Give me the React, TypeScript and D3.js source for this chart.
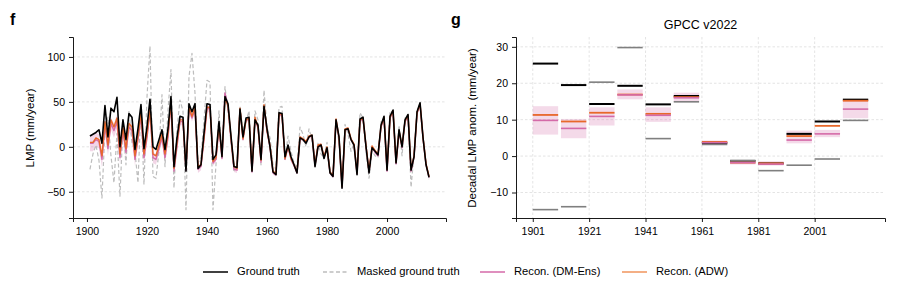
import React, { useEffect, useRef } from 'react';
import * as d3 from 'd3';

// annual series, 1901-2014 (mm/year)
const firstYear = 1901;
const groundTruth = [
  12, 14, 16, 19, 4, 46, 11, 43, 39, 55,
  0, 30, 8, 37, 33, -3, 20, 47, -2, 22,
  53, 0, -3, 8, 19, -3, 20, 56, -22, 10,
  34, 33, -27, 48, 39, 48, -24, -20, 15, 48,
  47, -14, -9, 28, -11, 56, 48, 12, -22, -23,
  42, 11, 32, 33, -27, 30, 24, -14, 45, 20,
  0, -28, -31, 38, 37, -11, 2, -11, -20, -29,
  10, 8, 4, 11, 13, -22, 0, 2, -13, -1,
  -29, -33, 30, 11, -46, 19, 20, 8, 2, -31,
  31, 33, 0, -29, -1, -5, -9, 24, 34, -26,
  34, 41, -18, 19, 0, 30, 36, -26, -11, 39,
  49, 10, -20, -34,
];
const maskedTruth = [
  -25, -8, 2, -15, -57, 20, 33, -10, -40, 15,
  -55, 25, -20, 40, 5, -5, -40, 45, -42, 55,
  112, -33, -35, -5, 58, -22, 40, 86, -46, 20,
  52, 40, -70, 78, 104, 60, -18, -12, 30, 74,
  72, -70, -20, 40, -8, 67, 40, 5, -28, -18,
  45, 18, 28, 40, -22, 40, 30, -20, 63, 22,
  10, -20, -25, 44, 45, -15, 12, -5, -18, -22,
  22, 14, 0, 20, 8, -20, 4, -8, -12, 5,
  -26, -30, 26, 5, -40, 25, 14, -5, 4, -26,
  38, 32, -5, -35, -4, -10, -12, 28, 30, -22,
  40, 38, -14, 24, -10, 32, 34, -45, -8, 40,
  46, 12, -20, -36,
];
const reconAdw = [
  5, 5, 10, 8, -10, 28, 2, 30, 22, 32,
  -8, 22, -2, 26, 22, -10, 12, 38, -8, 14,
  42, -8, -10, 2, 14, -8, 14, 50, -24, 4,
  30, 30, -24, 44, 34, 44, -22, -20, 10, 44,
  44, -16, -12, 24, -10, 54, 46, 10, -22, -24,
  43, 9, 30, 32, -26, 33, 22, -15, 47, 18,
  1, -27, -30, 37, 36, -13, 1, -13, -20, -28,
  11, 9, 6, 12, 13, -20, 2, 3, -11, 0,
  -28, -32, 31, 10, -44, 20, 21, 9, 3, -29,
  30, 32, 1, -27, 1, -4, -8, 23, 33, -25,
  33, 40, -17, 18, 1, 29, 35, -25, -10, 38,
  48, 10, -19, -33,
];
const reconDm = [
  4, 4, 8, 6, -14, 24, -2, 26, 18, 28,
  -12, 18, -6, 22, 18, -14, 8, 34, -12, 10,
  40, -12, -14, -2, 10, -12, 10, 48, -27, 0,
  28, 28, -26, 42, 32, 42, -25, -22, 8, 42,
  43, -18, -14, 22, -13, 60, 45, 8, -25, -26,
  41, 8, 29, 31, -28, 31, 21, -17, 45, 17,
  0, -29, -31, 36, 35, -14, 0, -14, -21, -29,
  10, 8, 5, 11, 12, -21, 1, 2, -12, -1,
  -29, -33, 30, 9, -45, 19, 20, 8, 2, -30,
  29, 31, 0, -28, 0, -6, -10, 22, 32, -27,
  32, 39, -19, 17, -1, 28, 34, -27, -11, 37,
  47, 9, -20, -34,
];
const reconDmSpread = [
  9, 9, 8, 8, 9, 8, 8, 7, 8, 8,
  7, 7, 7, 6, 7, 7, 6, 6, 7, 6,
  6, 6, 6, 5, 5, 5, 5, 5, 5, 5,
  4, 4, 4, 4, 4, 4, 4, 4, 4, 4,
  4, 3, 3, 3, 3, 4, 3, 3, 3, 3,
  3, 2, 2, 2, 3, 2, 2, 2, 3, 2,
  2, 2, 2, 2, 2, 2, 2, 2, 2, 2,
  2, 2, 2, 2, 2, 2, 2, 2, 2, 2,
  2, 2, 2, 2, 3, 2, 2, 2, 2, 2,
  2, 2, 2, 2, 2, 2, 2, 2, 2, 2,
  2, 2, 2, 2, 2, 2, 2, 2, 2, 2,
  2, 2, 2, 3,
];

// decadal anomalies (mm/year)
const decades = [1901, 1911, 1921, 1931, 1941, 1951, 1961, 1971, 1981, 1991, 2001, 2011];
const decTruth = [25.4, 19.5, 14.3, 19.3, 14.2, 16.5, 3.6, -1.3, -2.0, 6.1, 9.5, 15.5];
const decMasked = [-14.7, -13.9, 20.3, 29.8, 4.8, 14.9, 3.2, -1.3, -4.0, -2.5, -0.8, 9.8];
const decAdw = [11.3, 9.5, 11.9, 16.9, 11.6, 16.2, 3.9, -1.8, -2.0, 5.5, 8.3, 15.2];
const decDm = [9.8, 7.6, 10.9, 16.8, 11.2, 16.0, 3.7, -1.8, -2.2, 4.4, 6.1, 12.9];
const decDmLow = [5.9, 4.9, 8.4, 15.6, 9.4, 14.9, 3.0, -2.3, -2.6, 3.5, 5.2, 10.4];
const decDmHigh = [13.7, 10.2, 13.4, 18.3, 13.4, 17.4, 4.3, -1.2, -1.4, 7.0, 7.2, 15.6];

const leftTicksX = [1900, 1920, 1940, 1960, 1980, 2000];
const leftTicksY = [-50, 0, 50, 100];
const rightTicksX = [1901, 1921, 1941, 1961, 1981, 2001];
const rightTicksY = [-10, 0, 10, 20, 30];

const legendItems = [
  { label: 'Ground truth', key: 'truth' },
  { label: 'Masked ground truth', key: 'masked' },
  { label: 'Recon. (DM-Ens)', key: 'dm' },
  { label: 'Recon. (ADW)', key: 'adw' },
];

const C = {
  truth: '#000000',
  masked: '#bdbdbd',
  maskedDec: '#7f7f7f',
  dm: '#d46aa8',
  adw: '#e8682a',
  grid: '#d8d8d8',
};
const FONT = '"Liberation Sans", Arial, Helvetica, sans-serif';

const App: React.FC = () => {
  const ref = useRef<SVGSVGElement | null>(null);
  const width = 897;
  const height = 296;

  useEffect(() => {
    if (!ref.current) return;
    const svg = d3.select(ref.current);
    svg.selectAll('*').remove();

    const styleAxis = (g: d3.Selection<SVGGElement, unknown, null, undefined>) => {
      g.attr('font-family', FONT).attr('font-size', 10.5);
      g.selectAll('path.domain').attr('stroke', '#000').attr('stroke-width', 0.9);
      g.selectAll('.tick line').attr('stroke', '#000').attr('stroke-width', 0.9);
      g.selectAll('.tick text').attr('fill', '#000');
    };

    // ---------- panel f ----------
    const years = groundTruth.map((_, i) => firstYear + i);
    const xL = d3.scaleLinear().domain([1895.35, 2019.65]).range([73, 446]);
    const yL = d3.scaleLinear().domain([-79.2, 122.2]).range([218, 37]);

    const gL = svg.append('g');
    gL.selectAll('line.grid')
      .data(leftTicksY)
      .join('line')
      .attr('x1', 73).attr('x2', 446)
      .attr('y1', d => yL(d)).attr('y2', d => yL(d))
      .attr('stroke', C.grid).attr('stroke-width', 0.7).attr('stroke-dasharray', '2.5,2');

    const band = d3.area<number>()
      .x((_, i) => xL(years[i]))
      .y0((d, i) => yL(d - reconDmSpread[i]))
      .y1((d, i) => yL(d + reconDmSpread[i]));
    gL.append('path').attr('d', band(reconDm) || '')
      .attr('fill', C.dm).attr('fill-opacity', 0.28);

    const line = d3.line<number>().x((_, i) => xL(years[i])).y(d => yL(d));
    const drawLine = (vals: number[], color: string, w: number, dash?: string) => {
      const p = gL.append('path').attr('d', line(vals) || '')
        .attr('fill', 'none').attr('stroke', color).attr('stroke-width', w)
        .attr('stroke-linejoin', 'round');
      if (dash) p.attr('stroke-dasharray', dash);
    };
    drawLine(maskedTruth, C.masked, 1.2, '4,2.5');
    drawLine(reconDm, C.dm, 1.4);
    drawLine(reconAdw, C.adw, 1.4);
    drawLine(groundTruth, C.truth, 1.6);

    gL.append('g').attr('transform', 'translate(0,218)')
      .call(d3.axisBottom(xL).tickValues(leftTicksX).tickFormat(d3.format('d')).tickSizeOuter(0).tickSize(4).tickPadding(6))
      .call(styleAxis);
    gL.append('g').attr('transform', 'translate(73,0)')
      .call(d3.axisLeft(yL).tickValues(leftTicksY).tickSizeOuter(0).tickSize(4).tickPadding(4))
      .call(styleAxis);

    gL.append('text')
      .attr('transform', 'translate(31,128) rotate(-90)')
      .attr('text-anchor', 'middle').attr('dominant-baseline', 'middle')
      .attr('font-family', FONT).attr('font-size', 11.5)
      .text('LMP (mm/year)');
    svg.append('text').attr('x', 10).attr('y', 25)
      .attr('font-family', FONT).attr('font-size', 16).attr('font-weight', 'bold')
      .text('f');

    // ---------- panel g ----------
    const xR = d3.scaleLinear().domain([1895.05, 2025.95]).range([516, 885]);
    const yR = d3.scaleLinear().domain([-17, 32.7]).range([218, 37]);
    const gR = svg.append('g');

    gR.selectAll('line.gy')
      .data(rightTicksY)
      .join('line')
      .attr('x1', 516).attr('x2', 885)
      .attr('y1', d => yR(d)).attr('y2', d => yR(d))
      .attr('stroke', C.grid).attr('stroke-width', 0.7).attr('stroke-dasharray', '2.5,2');
    gR.selectAll('line.gx')
      .data(rightTicksX)
      .join('line')
      .attr('y1', 37).attr('y2', 218)
      .attr('x1', d => xR(d)).attr('x2', d => xR(d))
      .attr('stroke', C.grid).attr('stroke-width', 0.7).attr('stroke-dasharray', '2.5,2');

    gR.selectAll('rect.band')
      .data(decades)
      .join('rect')
      .attr('x', d => xR(d))
      .attr('width', d => xR(d + 9) - xR(d))
      .attr('y', (_, i) => yR(decDmHigh[i]))
      .attr('height', (_, i) => yR(decDmLow[i]) - yR(decDmHigh[i]))
      .attr('fill', C.dm).attr('fill-opacity', 0.25);

    const drawSegs = (vals: number[], color: string, w: number) => {
      gR.append('g').selectAll('line')
        .data(decades)
        .join('line')
        .attr('x1', d => xR(d)).attr('x2', d => xR(d + 9))
        .attr('y1', (_, i) => yR(vals[i])).attr('y2', (_, i) => yR(vals[i]))
        .attr('stroke', color).attr('stroke-width', w);
    };
    drawSegs(decTruth, C.truth, 2);
    drawSegs(decMasked, C.maskedDec, 1.6);
    drawSegs(decAdw, C.adw, 1.8);
    drawSegs(decDm, C.dm, 1.6);

    gR.append('g').attr('transform', 'translate(0,218)')
      .call(d3.axisBottom(xR).tickValues(rightTicksX).tickFormat(d3.format('d')).tickSizeOuter(0).tickSize(4).tickPadding(6))
      .call(styleAxis);
    gR.append('g').attr('transform', 'translate(516,0)')
      .call(d3.axisLeft(yR).tickValues(rightTicksY).tickSizeOuter(0).tickSize(4).tickPadding(4))
      .call(styleAxis);

    gR.append('text')
      .attr('transform', 'translate(473,128) rotate(-90)')
      .attr('text-anchor', 'middle').attr('dominant-baseline', 'middle')
      .attr('font-family', FONT).attr('font-size', 11.5)
      .text('Decadal LMP anom. (mm/year)');
    gR.append('text').attr('x', (516 + 885) / 2).attr('y', 29)
      .attr('text-anchor', 'middle')
      .attr('font-family', FONT).attr('font-size', 12.5)
      .text('GPCC v2022');
    svg.append('text').attr('x', 451).attr('y', 25)
      .attr('font-family', FONT).attr('font-size', 16).attr('font-weight', 'bold')
      .text('g');

    // ---------- legend ----------
    const legendX = [203, 323, 480, 622];
    const styles: Record<string, { color: string; dash?: string }> = {
      truth: { color: C.truth },
      masked: { color: C.masked, dash: '4,2.5' },
      dm: { color: C.dm },
      adw: { color: '#f0955c' },
    };
    const lg = svg.append('g');
    legendItems.forEach((item, i) => {
      const s = styles[item.key];
      const l = lg.append('line')
        .attr('x1', legendX[i]).attr('x2', legendX[i] + 25)
        .attr('y1', 272).attr('y2', 272)
        .attr('stroke', s.color).attr('stroke-width', 1.5);
      if (s.dash) l.attr('stroke-dasharray', s.dash);
      lg.append('text')
        .attr('x', legendX[i] + 34).attr('y', 272)
        .attr('dominant-baseline', 'middle')
        .attr('font-family', FONT).attr('font-size', 11.2)
        .text(item.label);
    });
  }, []);

  return (
    <svg
      ref={ref}
      width={width}
      height={height}
      style={{ position: 'absolute', left: 0, top: 0, background: '#fff' }}
    />
  );
};

export default App;
